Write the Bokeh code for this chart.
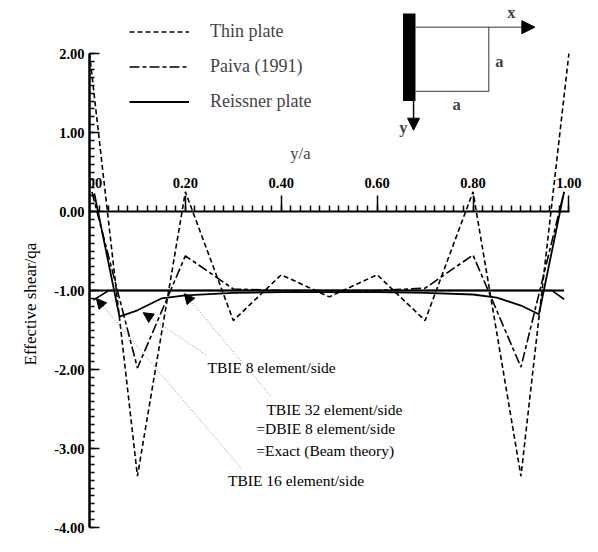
from bokeh.plotting import figure
from bokeh.models import (Range1d, LinearAxis, SingleIntervalTicker, PrintfTickFormatter,
                          Legend, LegendItem, Arrow, NormalHead, Label, BoxAnnotation, Title)
from bokeh.embed import file_html
from bokeh.resources import INLINE

# ---- data ----
thin_x = [0.0, 0.1, 0.2, 0.3, 0.4, 0.5, 0.6, 0.7, 0.8, 0.9, 1.0]
thin_plate = [2.0, -3.35, 0.25, -1.38, -0.80, -1.08, -0.80, -1.38, 0.25, -3.35, 2.0]

paiva_x = [0.005, 0.1, 0.2, 0.3, 0.4, 0.5, 0.6, 0.7, 0.8, 0.9, 0.99]
paiva = [0.25, -1.98, -0.56, -0.98, -1.0, -1.0, -1.0, -0.97, -0.55, -1.97, 0.25]

tbie8_x = [0.01, 0.0625, 0.1, 0.15, 0.2, 0.3, 0.4, 0.5, 0.6, 0.7, 0.8, 0.85, 0.9, 0.9375, 0.99]
tbie8 = [0.23, -1.33, -1.25, -1.10, -1.06, -1.03, -1.02, -1.02, -1.02, -1.03, -1.05, -1.09, -1.19, -1.30, 0.25]

tbie16_x = [0.008, 0.04, 0.5, 0.965, 0.99]
tbie16 = [-1.12, -1.0, -1.0, -1.0, -1.11]

exact_x = [0.0, 0.99]
exact = [-1.0, -1.0]

legend_labels = ["Thin plate", "Paiva (1991)", "Reissner plate"]

SERIF = "Liberation Serif"

p = figure(width=582, height=536, output_backend="svg", toolbar_location=None,
           x_axis_type=None, x_range=Range1d(0, 1.0284), y_range=Range1d(-4.0, 2.6725),
           min_border_left=89, min_border_right=0, min_border_top=0, min_border_bottom=9)
p.grid.visible = False
p.outline_line_color = None
p.background_fill_color = "white"

# x axis drawn along y = 0, labels above
xaxis = LinearAxis(fixed_location=0, bounds=(0, 1.001),
                   ticker=SingleIntervalTicker(interval=0.2, num_minor_ticks=10),
                   formatter=PrintfTickFormatter(format="%.2f"))
xaxis.axis_line_width = 2
xaxis.major_tick_out = 16
xaxis.major_tick_in = 0
xaxis.minor_tick_out = 6
xaxis.minor_tick_in = 0
xaxis.major_tick_line_width = 1.5
xaxis.minor_tick_line_width = 1.5
xaxis.major_label_standoff = 8
xaxis.major_label_text_font = SERIF
xaxis.major_label_text_font_size = "14.5px"
xaxis.major_label_text_font_style = "bold"
xaxis.major_label_text_color = "black"
p.add_layout(xaxis, "above")

ya = p.yaxis[0]
ya.ticker = SingleIntervalTicker(interval=1, num_minor_ticks=10)
ya.formatter = PrintfTickFormatter(format="%.2f")
ya.bounds = (-4, 2)
ya.axis_line_width = 2.5
ya.major_tick_in = 10
ya.major_tick_out = 0
ya.minor_tick_in = 5
ya.minor_tick_out = 0
ya.major_tick_line_width = 1.5
ya.minor_tick_line_width = 1.5
ya.major_label_standoff = 5
ya.major_label_text_font = SERIF
ya.major_label_text_font_size = "14.5px"
ya.major_label_text_font_style = "bold"
ya.major_label_text_color = "black"

# y axis title in the left panel, moved down towards -1
p.add_layout(Title(text="Effective shear/qa", align="left", offset=162, standoff=24,
                   text_font=SERIF, text_font_size="17px", text_font_style="normal",
                   text_color="black"), "left")

# ---- series ----
r_thin = p.line(thin_x, thin_plate, line_color="black", line_width=1.6, line_dash="5 3")
r_paiva = p.line(paiva_x, paiva, line_color="black", line_width=1.6, line_dash="10 3 4 3")
r_t8 = p.line(tbie8_x, tbie8, line_color="black", line_width=1.8)
r_t16 = p.line(tbie16_x, tbie16, line_color="black", line_width=1.6)
r_ex = p.line(exact_x, exact, line_color="black", line_width=2)

legend = Legend(items=[LegendItem(label=legend_labels[0], renderers=[r_thin]),
                       LegendItem(label=legend_labels[1], renderers=[r_paiva]),
                       LegendItem(label=legend_labels[2], renderers=[r_t8])],
                location=(40, 415), orientation="vertical")
legend.border_line_color = None
legend.background_fill_alpha = 0
legend.padding = 0
legend.margin = 0
legend.glyph_width = 60
legend.glyph_height = 21
legend.label_height = 21
legend.spacing = 14
legend.label_standoff = 21
legend.label_text_font = SERIF
legend.label_text_font_size = "18px"
p.add_layout(legend)

# ---- leader arrows and notes ----
def leader(xs, ys, xe, ye):
    p.add_layout(Arrow(x_start=xs, y_start=ys, x_end=xe, y_end=ye,
                       line_color="#8a8a8a", line_width=1, line_dash="1 2",
                       end=NormalHead(size=10, fill_color="black", line_color="black")))

leader(0.318, -3.26, 0.0143, -1.10)
leader(0.242, -1.81, 0.112, -1.28)
leader(0.377, -2.33, 0.198, -1.04)

notes = [("TBIE 8 element/side", 0.246, -1.98),
         ("TBIE 32 element/side", 0.369, -2.50),
         ("=DBIE 8 element/side", 0.348, -2.745),
         ("=Exact (Beam theory)", 0.348, -3.02),
         ("TBIE 16 element/side", 0.289, -3.40)]
for t, x, y in notes:
    p.add_layout(Label(x=x, y=y, text=t, text_font=SERIF, text_font_size="15.5px",
                       text_baseline="middle", text_align="left", text_color="black"))

p.add_layout(Label(x=0.44, y=0.735, text="y/a", text_font=SERIF, text_font_size="16.5px",
                   text_baseline="middle", text_align="center"))

# ---- inset schematic ----
p.add_layout(BoxAnnotation(left=0.654, right=0.680, top=2.507, bottom=1.40,
                           fill_color="black", fill_alpha=1, line_color=None))
p.line([0.833, 0.833, 0.68], [2.335, 1.523, 1.523], line_color="#333333", line_width=1)
p.add_layout(Arrow(x_start=0.68, y_start=2.335, x_end=0.929, y_end=2.335,
                   line_color="#333333", line_width=1,
                   end=NormalHead(size=13, fill_color="black", line_color="black")))
p.add_layout(Arrow(x_start=0.676, y_start=1.40, x_end=0.676, y_end=1.03,
                   line_color="black", line_width=1.5,
                   end=NormalHead(size=12, fill_color="black", line_color="black")))
for t, x, y in [("x", 0.88, 2.52), ("a", 0.855, 1.90), ("a", 0.766, 1.35), ("y", 0.655, 1.07)]:
    p.add_layout(Label(x=x, y=y, text=t, text_font=SERIF, text_font_size="16.5px",
                       text_font_style="bold", text_baseline="middle", text_align="center"))

open("out.html", "w").write(file_html(p, INLINE))
